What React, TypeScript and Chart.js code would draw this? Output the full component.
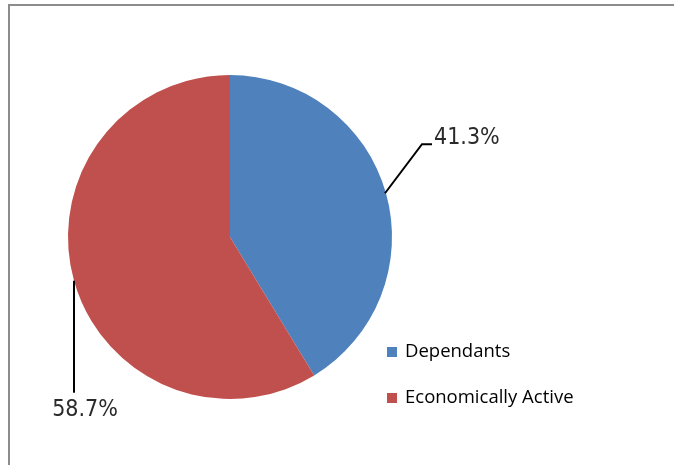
import React, { useEffect, useRef } from "react";
import { Chart, registerables } from "chart.js";

Chart.register(...registerables);

const categories = ["Dependants", "Economically Active"];
const values = [41.3, 58.7];
const colors = ["#4F81BD", "#C0504D"];
const percentLabels = ["41.3%", "58.7%"];

const labelPlugin = {
  id: "excelLabels",
  afterDraw(chart: any) {
    const ctx = chart.ctx;
    const meta = chart.getDatasetMeta(0);
    ctx.save();
    // leader lines + percent labels
    meta.data.forEach((arc: any, i: number) => {
      const { x, y, startAngle, endAngle, outerRadius } = arc.getProps(
        ["x", "y", "startAngle", "endAngle", "outerRadius"],
        true
      );
      const mid = (startAngle + endAngle) / 2;
      const px = x + Math.cos(mid) * outerRadius;
      const py = y + Math.sin(mid) * outerRadius;
      ctx.strokeStyle = "#000";
      ctx.lineWidth = 2;
      ctx.beginPath();
      ctx.font = "23px 'DejaVu Sans Condensed', 'DejaVu Sans'";
      ctx.fillStyle = "#2a2a2a";
      ctx.textBaseline = "middle";
      if (Math.cos(mid) >= 0) {
        ctx.moveTo(px - 1, py);
        ctx.lineTo(px + 36, py - 49);
        ctx.lineTo(px + 46, py - 49);
        ctx.stroke();
        ctx.textAlign = "left";
        ctx.fillText(percentLabels[i], px + 48, py - 55);
      } else {
        ctx.moveTo(px, py);
        ctx.lineTo(px, py + 112);
        ctx.stroke();
        ctx.textAlign = "center";
        ctx.fillText(percentLabels[i], px + 11, py + 129);
      }
    });
    // legend
    ctx.font = "18.5px 'Open Sans'";
    ctx.textAlign = "left";
    ctx.textBaseline = "middle";
    categories.forEach((c, i) => {
      const ly = 352 + i * 46;
      ctx.fillStyle = colors[i];
      ctx.fillRect(387, ly - 5, 10, 10);
      ctx.fillStyle = "#000";
      ctx.fillText(c, 405, ly);
    });
    ctx.restore();
  },
};

export default function App() {
  const ref = useRef<HTMLCanvasElement>(null);
  useEffect(() => {
    if (!ref.current) return;
    const chart = new Chart(ref.current, {
      type: "pie",
      data: {
        labels: categories,
        datasets: [
          {
            data: values,
            backgroundColor: colors,
            borderWidth: 0,
          },
        ],
      },
      options: {
        animation: false,
        responsive: false,
        layout: { padding: { left: 68, right: 282, top: 75, bottom: 66 } },
        plugins: {
          legend: { display: false },
          tooltip: { enabled: false },
        },
      },
      plugins: [labelPlugin],
    });
    return () => chart.destroy();
  }, []);
  return (
    <div
      style={{
        position: "fixed",
        left: 0,
        top: 0,
        width: 674,
        height: 465,
        background: "#fff",
      }}
    >
      <canvas ref={ref} width={674} height={465} style={{ position: "absolute", left: 0, top: 0 }} />
      <div
        style={{
          position: "absolute",
          left: 8,
          top: 4,
          right: 0,
          bottom: 0,
          borderTop: "2px solid #8c8c8c",
          borderLeft: "2px solid #8c8c8c",
          pointerEvents: "none",
        }}
      />
    </div>
  );
}
